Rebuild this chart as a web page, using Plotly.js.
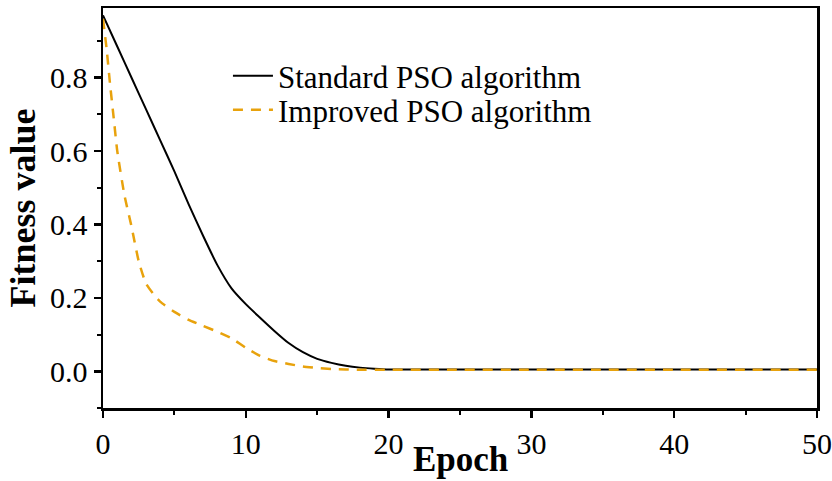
<!DOCTYPE html>
<html>
<head>
<meta charset="utf-8">
<script src="https://cdn.plot.ly/plotly-3.0.1.min.js"></script>
<style>html,body{margin:0;padding:0;background:#fff;}#chart{width:832px;height:481px;}</style>
</head>
<body>
<div id="chart"></div>
<script>
// Standard PSO algorithm
const stdEpoch = [0,1,2,3,4,5,6,7,8,9,10,11,12,13,14,15,16,17,18,19,20,25,30,35,40,45,50];
const stdFitness = [0.97,0.885,0.80,0.715,0.63,0.545,0.455,0.37,0.29,0.226,0.183,0.146,0.110,0.077,0.052,0.034,0.023,0.015,0.010,0.007,0.005,0.005,0.005,0.005,0.005,0.005,0.005];
// Improved PSO algorithm
const impEpoch = [0,0.25,0.5,0.75,1,1.5,2,2.5,3,3.5,4,5,6,7,8,9,10,11,12,13,14,15,16,17,18,20,25,30,35,40,45,50];
const impFitness = [0.96,0.88,0.78,0.69,0.60,0.48,0.394,0.30,0.24,0.212,0.19,0.162,0.14,0.124,0.108,0.09,0.064,0.042,0.028,0.02,0.013,0.009,0.006,0.005,0.004,0.004,0.004,0.004,0.004,0.004,0.004,0.004];

const seriesNames = ['Standard PSO algorithm','Improved PSO algorithm'];
const xTitle = 'Epoch';
const yTitle = 'Fitness value';

const font = 'Liberation Serif, Times New Roman, serif';

const traces = [
  {x: stdEpoch, y: stdFitness, name: seriesNames[0], mode: 'lines', type: 'scatter', legend: 'legend',
   line: {color: '#000000', width: 2, shape: 'spline', smoothing: 0.6}},
  {x: impEpoch, y: impFitness, name: seriesNames[1], mode: 'lines', type: 'scatter', legend: 'legend2',
   line: {color: '#E8A20C', width: 2.5, dash: '10px,8px', shape: 'spline', smoothing: 0.5}}
];

const legendFont = {family: font, size: 31, color: '#000'};
const layout = {
  width: 832, height: 481,
  margin: {l: 103, r: 15, t: 8, b: 73},
  paper_bgcolor: '#fff', plot_bgcolor: '#fff',
  font: {family: font, color: '#000', size: 30},
  showlegend: true,
  legend: {x: 0.175, y: 0.8975, xanchor: 'left', yanchor: 'top', bgcolor: 'rgba(0,0,0,0)',
           font: legendFont, itemwidth: 40},
  legend2: {x: 0.175, y: 0.8125, xanchor: 'left', yanchor: 'top', bgcolor: 'rgba(0,0,0,0)',
           font: legendFont, itemwidth: 40},
  annotations: [{
    text: '<b>' + xTitle + '</b>', xref: 'paper', yref: 'paper', x: 0.5, y: -0.181,
    xanchor: 'center', yanchor: 'bottom', showarrow: false, borderpad: 0,
    font: {family: font, size: 35, color: '#000'}
  }],
  xaxis: {
    range: [0, 50], showgrid: false, zeroline: false,
    showline: true, linecolor: '#000', linewidth: 2.5, mirror: true,
    ticks: 'outside', ticklen: 7, tickwidth: 2.5, tickcolor: '#000',
    tickvals: [0,10,20,30,40,50],
    minor: {ticks: 'outside', ticklen: 4, tickwidth: 2, tickcolor: '#000', dtick: 5, tick0: 0, showgrid: false},
    tickfont: {family: font, size: 30, color: '#000'}
  },
  yaxis: {
    range: [-0.1, 0.99], showgrid: false, zeroline: false,
    showline: true, linecolor: '#000', linewidth: 2.5, mirror: true,
    ticks: 'outside', ticklen: 7, tickwidth: 2.5, tickcolor: '#000',
    tickvals: [0, 0.2, 0.4, 0.6, 0.8], ticktext: ['0.0','0.2','0.4','0.6','0.8'],
    minor: {ticks: 'outside', ticklen: 4, tickwidth: 2, tickcolor: '#000', dtick: 0.1, tick0: 0, showgrid: false},
    tickfont: {family: font, size: 30, color: '#000'},
    title: {text: '<b>' + yTitle + '</b>', font: {family: font, size: 36, color: '#000'}, standoff: 4}
  }
};

Plotly.newPlot('chart', traces, layout, {displayModeBar: false, staticPlot: true});
</script>
</body>
</html>
